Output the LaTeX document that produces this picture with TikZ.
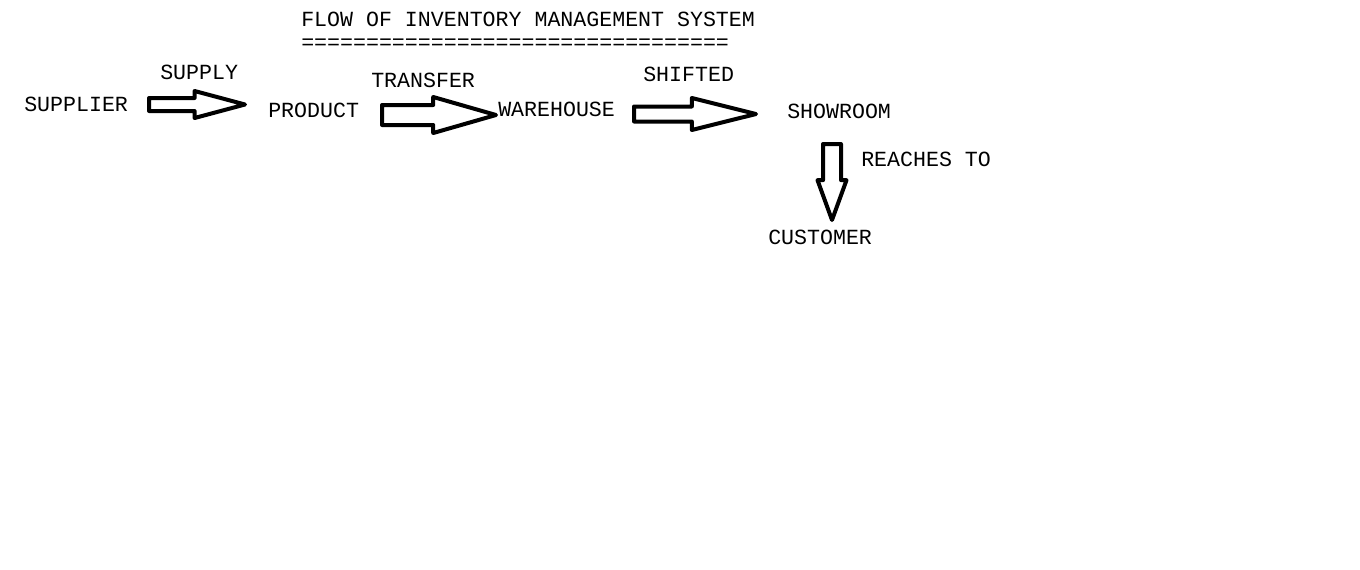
\documentclass[tikz,border=0pt]{standalone}
\usepackage{fontspec}
\setmonofont{Liberation Mono}
\usetikzlibrary{shapes.arrows}

\tikzset{
  flow text/.style={font=\ttfamily\fontsize{16.2}{18}\selectfont, inner sep=0pt, anchor=west},
  flow arrow/.style={single arrow, draw, line width=3pt, line join=round,
    inner xsep=0pt, outer sep=0pt, single arrow head indent=0pt, anchor=tail},
}

\begin{document}
\begin{tikzpicture}[x=0.75pt,y=-0.75pt]
  \useasboundingbox (0,0) rectangle (1360,569);
  % title and its underline
  \node[flow text] (title) at (301,19) {FLOW OF INVENTORY MANAGEMENT SYSTEM};
  \node[flow text, anchor=base west] (rule) at (301,49) {=================================};
  % stages of the flow
  \node[flow text] (supplier) at (24,104) {SUPPLIER};
  \node[flow text] (product) at (268,110) {PRODUCT};
  \node[flow text] (warehouse) at (498,109) {WAREHOUSE};
  \node[flow text] (showroom) at (787,111) {SHOWROOM};
  \node[flow text] (customer) at (768,237) {CUSTOMER};
  % block arrows between the stages
  \node[flow arrow, inner ysep=4.5*0.75pt, minimum height=96*0.75pt, minimum width=23*0.75pt,
    single arrow head extend=7*0.75pt, single arrow tip angle=30] (supply) at (149,104.5) {};
  \node[flow arrow, inner ysep=8*0.75pt, minimum height=114*0.75pt, minimum width=32*0.75pt,
    single arrow head extend=8*0.75pt, single arrow tip angle=32] (transfer) at (382,115) {};
  \node[flow arrow, inner ysep=5.5*0.75pt, minimum height=122*0.75pt, minimum width=28*0.75pt,
    single arrow head extend=8.5*0.75pt, single arrow tip angle=28] (shifted) at (634,114) {};
  \node[flow arrow, shape border rotate=270, inner xsep=7*0.75pt, inner ysep=0pt,
    minimum height=76*0.75pt, minimum width=25*0.75pt, single arrow head extend=5.5*0.75pt,
    single arrow tip angle=40] (reaches) at (832,144) {};
  % labels over the arrows
  \node[flow text] at (160,72.5) {SUPPLY};
  \node[flow text] at (371,80) {TRANSFER};
  \node[flow text] at (643,74) {SHIFTED};
  \node[flow text] at (861,159) {REACHES TO};
\end{tikzpicture}
\end{document}
